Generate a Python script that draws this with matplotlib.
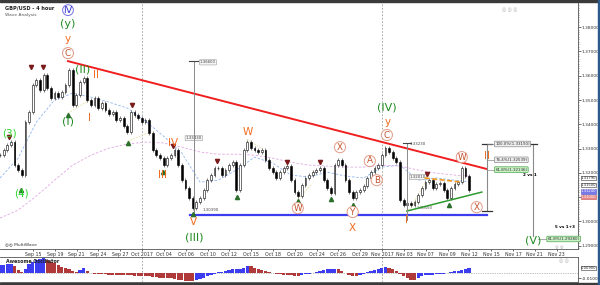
import matplotlib
matplotlib.use("Agg")
import matplotlib.pyplot as plt
import matplotlib.transforms as mtransforms
import numpy as np

# GBP/USD 4h, one value per 8 hours (two bars), Sep 13 -> Nov 13 2017
close = [1.3273, 1.3294, 1.3314, 1.3327, 1.3232, 1.3212, 1.3191, 1.3409, 1.3450, 1.3561,
         1.3582, 1.3541, 1.3602, 1.3549, 1.3508, 1.3528, 1.3512, 1.3533, 1.3561, 1.3623,
         1.3479, 1.3520, 1.3574, 1.3590, 1.3500, 1.3479, 1.3508, 1.3467, 1.3487, 1.3458,
         1.3442, 1.3450, 1.3417, 1.3426, 1.3393, 1.3368, 1.3450, 1.3438, 1.3426, 1.3409,
         1.3417, 1.3364, 1.3294, 1.3273, 1.3261, 1.3232, 1.3261, 1.3273, 1.3294, 1.3232,
         1.3170, 1.3137, 1.3096, 1.3055, 1.3080, 1.3096, 1.3129, 1.3170, 1.3191, 1.3220,
         1.3220, 1.3191, 1.3212, 1.3232, 1.3244, 1.3129, 1.3232, 1.3294, 1.3327, 1.3302,
         1.3294, 1.3286, 1.3294, 1.3253, 1.3220, 1.3203, 1.3179, 1.3203, 1.3220, 1.3228,
         1.3170, 1.3121, 1.3105, 1.3150, 1.3179, 1.3191, 1.3203, 1.3212, 1.3220, 1.3170,
         1.3137, 1.3117, 1.3232, 1.3253, 1.3232, 1.3170, 1.3121, 1.3096, 1.3121, 1.3129,
         1.3146, 1.3179, 1.3203, 1.3220, 1.3232, 1.3273, 1.3302, 1.3286, 1.3261, 1.3244,
         1.3088, 1.3068, 1.3076, 1.3068, 1.3080, 1.3109, 1.3137, 1.3162, 1.3170, 1.3137,
         1.3154, 1.3158, 1.3129, 1.3096, 1.3137, 1.3154, 1.3162, 1.3220, 1.3187, 1.3129]

# Awesome Oscillator, same sampling
ao = [0.014, 0.015, 0.016, 0.016, 0.012, 0.006, 0.002, 0.008, 0.016, 0.020,
      0.024, 0.026, 0.027, 0.023, 0.020, 0.018, 0.015, 0.011, 0.009, 0.007,
      0.004, 0.002, 0.006, 0.009, 0.004, 0.000, -0.001, -0.001, -0.002, -0.002,
      -0.003, -0.003, -0.004, -0.004, -0.004, -0.004, -0.004, -0.005, -0.005, -0.005,
      -0.005, -0.006, -0.007, -0.008, -0.009, -0.009, -0.010, -0.010, -0.011, -0.012,
      -0.013, -0.014, -0.015, -0.015, -0.013, -0.011, -0.009, -0.006, -0.004, -0.002,
      0.001, 0.002, 0.004, 0.006, 0.007, 0.007, 0.008, 0.010, 0.013, 0.012,
      0.009, 0.008, 0.006, 0.004, 0.002, 0.000, -0.001, -0.002, -0.003, -0.003,
      -0.004, -0.005, -0.005, -0.003, -0.002, -0.001, 0.000, 0.002, 0.004, 0.005,
      0.007, 0.008, 0.008, 0.007, 0.004, 0.000, -0.003, -0.005, -0.006, -0.003,
      -0.001, 0.002, 0.004, 0.006, 0.008, 0.009, 0.011, 0.010, 0.008, 0.004,
      -0.001, -0.006, -0.010, -0.012, -0.012, -0.009, -0.006, -0.004, -0.003, -0.003,
      -0.002, -0.001, -0.001, 0.000, 0.002, 0.003, 0.004, 0.006, 0.008, 0.009]

# moving averages read every 5 samples
ma_idx = [0, 5, 10, 15, 20, 25, 30, 35, 40, 45, 50, 55, 60, 65, 70, 75, 80, 85, 90,
          95, 100, 105, 110, 115, 120, 125, 129]
ma_fast = [1.3179, 1.3261, 1.3409, 1.3500, 1.3528, 1.3512, 1.3491, 1.3467, 1.3413, 1.3351,
           1.3282, 1.3162, 1.3170, 1.3212, 1.3265, 1.3240, 1.3191, 1.3183, 1.3203, 1.3187,
           1.3179, 1.3224, 1.3232, 1.3170, 1.3179, 1.3170, 1.3162]
ma_slow = [1.3014, 1.3047, 1.3105, 1.3170, 1.3232, 1.3273, 1.3302, 1.3319, 1.3327, 1.3323,
           1.3306, 1.3286, 1.3277, 1.3277, 1.3273, 1.3261, 1.3244, 1.3232, 1.3228, 1.3224,
           1.3224, 1.3232, 1.3228, 1.3212, 1.3199, 1.3191, 1.3187]

date_labels = ["Sep 15", "Sep 19", "Sep 21", "Sep 24", "Sep 27", "Oct 2017", "Oct 04",
               "Oct 06", "Oct 10", "Oct 12", "Oct 15", "Oct 18", "Oct 20", "Oct 24",
               "Oct 26", "Oct 29", "Nov 2017", "Nov 03", "Nov 07", "Nov 09", "Nov 12",
               "Nov 15", "Nov 17", "Nov 21", "Nov 23"]
first_label_pos = 9.07      # sample index of "Sep 15"
label_step = 6              # samples between date labels
month_lines = [5, 16]       # date labels that start a month

# wave labels: text, sample index, price, style
wave_text = ["IV", "(y)", "y", "C", "(II)", "II", "(3)", "(4)", "(I)", "I", "IV", "III",
             "V", "(III)", "W", "W", "X", "Y", "X", "A", "B", "C", "y", "(IV)", "I",
             "W", "X", "II", "(V)"]
wave_idx = [18.7, 18.7, 18.7, 18.7, 22.8, 26.4, 2.5, 5.8, 18.7, 24.5, 47.6, 44.8,
            53.3, 53.3, 68.2, 81.9, 93.5, 97.0, 97.0, 101.7, 103.6, 106.4, 106.7, 106.4, 111.9,
            127.0, 131.1, 133.9, 146.5]
wave_price = [1.3870, 1.3812, 1.3751, 1.3693, 1.3627, 1.3602, 1.3364, 1.3117, 1.3413, 1.3426,
              1.3323, 1.3191, 1.2998, 1.2936, 1.3368, 1.3055, 1.3306, 1.3039, 1.2973, 1.3249,
              1.3170, 1.3356, 1.3409, 1.3471, 1.3006, 1.3265, 1.3059, 1.3269, 1.2923]
wave_kind = ["blue", "green", "orange", "circ", "green", "orange", "lime", "lime", "green",
             "orange", "orange", "orange", "orange", "green", "orange", "circ", "circ", "circ",
             "orange", "circ", "circ", "circ", "orange", "green", "orange", "circ", "circ",
             "orange", "green"]

# swing markers
top_idx = [2.5, 8.5, 11.8, 36.3, 47.6, 59.6, 78.9, 88.0, 117.4]
top_price = [1.3339, 1.3627, 1.3627, 1.3471, 1.3302, 1.3240, 1.3236, 1.3236, 1.3187]
bot_idx = [5.8, 18.7, 35.2, 44.8, 53.1, 65.1, 81.9, 91.0, 97.0, 123.4]
bot_price = [1.3137, 1.3446, 1.3331, 1.3212, 1.3039, 1.3109, 1.3092, 1.3100, 1.3076, 1.3076]

# trend lines
red_idx, red_price = [18.7, 133.9], [1.3660, 1.3216]
blue_idx, blue_price = [52.2, 133.9], [1.3026, 1.3026]
green_idx, green_price = [111.9, 132.5], [1.3043, 1.3121]
orange_idx, orange_price = [116.8, 127.0], [1.3179, 1.3162]
faint_segments = [([18.7, 24.7], [1.3446, 1.3500]), ([35.2, 40.7], [1.3331, 1.3364]),
                  ([67.9, 72.3], [1.3339, 1.3298]), ([81.9, 85.5], [1.3092, 1.3150]),
                  ([112.7, 116.8], [1.3047, 1.3158])]

# measuring lines (index, top, bottom)
measure_1 = (53.3, 1.3660, 1.3039)
measure_2 = (111.9, 1.3323, 1.3006)
fib_idx, fib_high, fib_low = 133.9, 1.3319, 1.3043
target_idx, target_top, target_price = 146.5, 1.3319, 1.2928

# price tags on the axis
tag_price = [1.3179, 1.3150, 1.3124, 1.3100]
tag_kind = ["plain", "plain", "bid", "ask"]

# ---------------------------------------------------------------
fig = plt.figure(figsize=(6.0, 2.85), dpi=100)
ax = fig.add_axes([0.0, 0.126, 0.963, 0.863])
ao_ax = fig.add_axes([0.0, 0.0105, 0.963, 0.0877], sharex=ax)

n = len(close)
x = np.arange(n)
opens = np.array([close[0]] + close[:-1])
closes = np.array(close)
lo = np.minimum(opens, closes)
hi = np.maximum(opens, closes)
up = closes >= opens
wick = 0.0009

ax.vlines(x, lo - wick, hi + wick, color="#6a6a6a", lw=0.6, zorder=2)
ax.bar(x[up], np.maximum(hi - lo, 0.0002)[up], bottom=lo[up], width=0.5,
       color="white", edgecolor="black", lw=0.4, zorder=3)
ax.bar(x[~up], np.maximum(hi - lo, 0.0002)[~up], bottom=lo[~up], width=0.5,
       color="black", edgecolor="black", lw=0.4, zorder=3)

ax.plot(ma_idx, ma_fast, color="#8fb4f0", lw=0.6, ls=(0, (3, 2)), zorder=1)
ax.plot(ma_idx, ma_slow, color="#e0a8e0", lw=0.6, ls=(0, (3, 2)), zorder=1)
for sx, sy in faint_segments:
    ax.plot(sx, sy, color="#e8dc9c", lw=0.6, ls=(0, (2, 1.5)), zorder=1)

ax.plot(red_idx, red_price, color="#f01e1e", lw=1.4, zorder=4)
ax.plot(blue_idx, blue_price, color="#3d3df0", lw=1.6, zorder=4)
ax.plot(green_idx, green_price, color="#2e9a2e", lw=1.1, zorder=4)
ax.plot(orange_idx, orange_price, color="#f39a1e", lw=1.2, ls=(0, (3, 1.5)), zorder=4)

ax.plot(top_idx, [p + 0.0009 for p in top_price], ls="none", marker="v", ms=3,
        color="#7a1a1a", zorder=5)
ax.plot(bot_idx, [p - 0.0009 for p in bot_price], ls="none", marker="^", ms=3,
        color="#2a6e2a", zorder=5)

# measuring lines with caps
grey = "#8a8a8a"
for mx, mtop, mbot in [measure_1, measure_2]:
    ax.plot([mx, mx], [mbot, mtop], color=grey, lw=0.7, zorder=4)
    ax.plot([mx - 1.2, mx + 1.2], [mtop, mtop], color="#444444", lw=0.8, zorder=4)

small_box = dict(boxstyle="round,pad=0.15", fc="#f4f4f4", ec="#9a9a9a", lw=0.4)
ax.text(55.0, 1.3655, "1.36600", fontsize=2.8, color="#444444", va="center", bbox=small_box)
ax.text(53.3, 1.3343, "1.33430", fontsize=2.8, color="#444444", ha="center", va="center",
        bbox=small_box)
ax.text(55.8, 1.3047, "1.30390", fontsize=2.8, color="#444444", va="center")
ax.text(112.7, 1.3318, "1.33230", fontsize=2.8, color="#444444", va="center")
ax.text(112.7, 1.3183, "1.32010", fontsize=2.8, color="#444444", va="center", bbox=small_box)
ax.text(114.6, 1.3055, "1.30550", fontsize=2.8, color="#444444", va="center")

# fibonacci retracement
ax.plot([fib_idx, fib_idx], [fib_low, fib_high], color=grey, lw=0.8, zorder=4)
for cap in (fib_low, fib_high):
    ax.plot([fib_idx - 1.3, fib_idx + 1.3], [cap, cap], color="#333333", lw=0.9, zorder=4)
fib_box = dict(boxstyle="round,pad=0.2", fc="#eeeeee", ec="#8a8a8a", lw=0.5)
fib_green = dict(boxstyle="round,pad=0.2", fc="#c9efc4", ec="#4aa84a", lw=0.5)
for ratio, box in [(1.0, fib_box), (0.764, fib_box), (0.618, fib_green)]:
    level = fib_low + ratio * (fib_high - fib_low)
    ax.plot([fib_idx, 136.0], [level, level], color=grey, lw=0.5, zorder=4)
    ax.text(136.2, level, f"{ratio * 100:.1f}%({level:.5f})", fontsize=2.9, color="#333333",
            va="center", bbox=box, zorder=6)
ax.text(147.6, 1.3191, "2 vs 1", fontsize=3.0, color="black", ha="right", va="center",
        fontweight="bold")

ax.plot([target_idx, target_idx], [target_price + 0.0012, target_top], color=grey, lw=0.8)
ax.plot([target_idx - 1.3, target_idx + 1.3], [target_top, target_top], color="#333333", lw=0.9)
ax.plot([target_idx + 1.5, 150.4], [target_price, target_price], color=grey, lw=0.5)
ax.text(150.6, target_price, f"61.8%({target_price:.5f})", fontsize=2.9, color="#333333",
        va="center", bbox=fib_green, zorder=6)
ax.text(158.2, 1.2976, "5 vs 1+3", fontsize=3.0, color="black", ha="right", va="center",
        fontweight="bold")

# wave labels
styles = {
    "green": dict(color="#1f8a1f", fontsize=8),
    "lime": dict(color="#2fd82f", fontsize=7.5),
    "orange": dict(color="#f26b1d", fontsize=7.5),
    "circ": dict(color="#c2502a", fontsize=6.3,
                 bbox=dict(boxstyle="circle,pad=0.12", fc="white", ec="#e29a86", lw=0.7)),
    "blue": dict(color="#3333cc", fontsize=6.8,
                 bbox=dict(boxstyle="circle,pad=0.08", fc="white", ec="#7070e0", lw=0.7)),
}
for t, i, p, k in zip(wave_text, wave_idx, wave_price, wave_kind):
    ax.text(i, p, t, ha="center", va="center", zorder=7, **styles[k])

# axes styling
x_max = 158.9
ax.set_xlim(0, x_max)
ax.set_ylim(1.28864, 1.38988)
ax.yaxis.tick_right()
price_ticks = [1.29, 1.30, 1.31, 1.32, 1.33, 1.34, 1.35, 1.36, 1.37, 1.38]
ax.set_yticks(price_ticks)
# the 1.31 label sits under the bid/ask tags
ax.set_yticklabels(["" if v == 1.31 else f"{v:.5f}" for v in price_ticks])
ax.set_yticks(np.arange(1.289, 1.3895, 0.001), minor=True)
ax.tick_params(axis="y", which="major", labelsize=3.2, length=2, width=0.5, pad=1,
               colors="#333333")
ax.tick_params(axis="y", which="minor", length=1, width=0.4, colors="#555555")

tick_pos = [first_label_pos + label_step * k for k in range(len(date_labels))]
ax.set_xticks(tick_pos)
ax.set_xticklabels(date_labels)
ax.tick_params(axis="x", labelsize=3.4, length=1.5, width=0.5, pad=0.6, colors="#333333")
for s in ("left", "top"):
    ax.spines[s].set_visible(False)
for s in ("right", "bottom"):
    ax.spines[s].set_linewidth(0.6)
    ax.spines[s].set_color("#555555")

for k in month_lines:
    for a in (ax, ao_ax):
        a.axvline(tick_pos[k], color="#9a9a9a", lw=0.6, ls=(0, (2, 2)), zorder=0)

# price tags at the right axis
tag_tr = mtransforms.blended_transform_factory(ax.transAxes, ax.transData)
tag_styles = {
    "plain": dict(fc="white", ec="#333333", tc="#222222"),
    "bid": dict(fc="#7878e6", ec="#5050c0", tc="white"),
    "ask": dict(fc="#e88a8a", ec="#c05050", tc="white"),
}
for p, k in zip(tag_price, tag_kind):
    st = tag_styles[k]
    ax.text(1.005, p, f"{p:.5f}", transform=tag_tr, fontsize=2.7, color=st["tc"], va="center",
            bbox=dict(boxstyle="square,pad=0.04", fc=st["fc"], ec=st["ec"], lw=0.4),
            clip_on=False, zorder=8)

# Awesome Oscillator
ao_colors = []
prev = "#3c3cf0"
for i, v in enumerate(ao):
    if i > 0 and v > ao[i - 1]:
        prev = "#3c3cf0"
    elif i > 0 and v < ao[i - 1]:
        prev = "#b03a3a"
    ao_colors.append(prev)
ao_ax.bar(x, ao, width=0.9, color=ao_colors, lw=0, zorder=2)
ao_ax.axhline(0, color="#888888", lw=0.5, ls=(0, (1, 1.5)), zorder=1)
ao_ax.set_ylim(-0.0164, 0.0291)
ao_ax.yaxis.tick_right()
ao_ax.set_yticks([-0.01])
ao_ax.set_yticklabels(["-0.01000"])
ao_ax.tick_params(axis="y", labelsize=3.2, length=2, width=0.5, pad=1, colors="#333333")
ao_ax.tick_params(axis="x", bottom=False, labelbottom=False)
ao_ax.spines["left"].set_visible(False)
for s in ("right", "bottom", "top"):
    ao_ax.spines[s].set_linewidth(0.6)
    ao_ax.spines[s].set_color("#555555")
ao_tr = mtransforms.blended_transform_factory(ao_ax.transAxes, ao_ax.transData)
ao_ax.text(1.005, ao[-1], f"{ao[-1]:.5f}", transform=ao_tr, fontsize=2.7, color="#222222",
           va="center", bbox=dict(boxstyle="square,pad=0.04", fc="white", ec="#333333", lw=0.4),
           clip_on=False)
ao_ax.text(0.01, 0.92, "Awesome Oscillator", transform=ao_ax.transAxes, fontsize=3.4,
           fontweight="bold", va="top", color="#222222", zorder=5)
ao_ax.text(0.985, 0.95, "◎ ◎", transform=ao_ax.transAxes, fontsize=3.4, color="#aaaaaa",
           ha="right", va="top")

# headers and frame
fig.text(0.008, 0.982, "GBP/USD - 4 hour", fontsize=3.6, color="#222222", va="top",
         fontweight="bold")
fig.text(0.008, 0.955, "Wave Analysis", fontsize=3.2, color="#555555", va="top")
ax.text(0.008, 0.012, "◎◎ MultiWave", transform=ax.transAxes, fontsize=3.2, color="#333333",
        va="bottom")
ax.text(0.895, 0.985, "◎ ◎ ◎", transform=ax.transAxes, fontsize=3.4, color="#aaaaaa",
        ha="right", va="top")
ax.text(0.975, 0.0, "◎ ◎", transform=ax.transAxes, fontsize=3.0, color="#aaaaaa",
        ha="right", va="bottom")

fig.patches.append(plt.Rectangle((0, 0.993), 1, 0.007, transform=fig.transFigure,
                                 color="#3a3a3a", zorder=10))
fig.patches.append(plt.Rectangle((0, 0), 1, 0.008, transform=fig.transFigure,
                                 color="#3a3a3a", zorder=10))
fig.patches.append(plt.Rectangle((0.996, 0), 0.004, 1, transform=fig.transFigure,
                                 color="#2c5a8c", zorder=10))

fig.savefig("out.png", dpi=100)
